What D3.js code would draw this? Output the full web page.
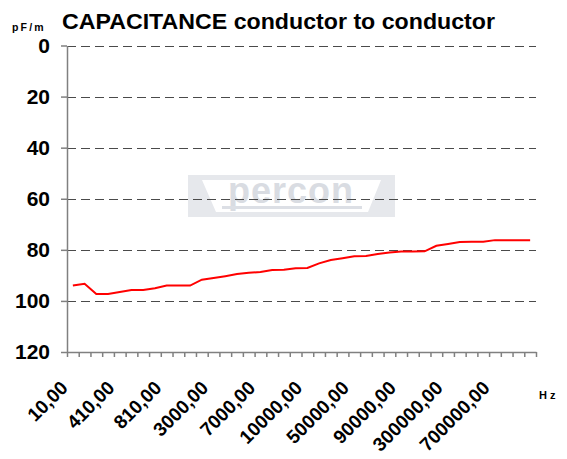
<!DOCTYPE html>
<html>
<head>
<meta charset="utf-8">
<script src="https://cdn.jsdelivr.net/npm/d3@7"></script>
<style>
  html, body { margin: 0; padding: 0; background: #fff; }
  svg { display: block; font-family: "Liberation Sans", Arial, sans-serif; }
</style>
</head>
<body>
<div id="chart"></div>
<script>
// frequencies (Hz) as categories, 40 of them
const freqs = [10, 110, 210, 310, 410, 510, 610, 710, 810, 910,
  1000, 2000, 3000, 4000, 5000, 6000, 7000, 8000, 9000, 9500,
  10000, 20000, 30000, 40000, 50000, 60000, 70000, 80000, 90000, 100000,
  150000, 200000, 300000, 400000, 500000, 600000, 700000, 800000, 900000, 1000000];

// capacitance pF/m
const capacitance = [94.0, 93.3, 97.3, 97.3, 96.5, 95.7, 95.7, 95.0, 94.0, 94.0,
  94.0, 91.7, 91.0, 90.3, 89.5, 89.0, 88.7, 87.9, 87.8, 87.2,
  87.1, 85.3, 84.0, 83.3, 82.5, 82.4, 81.6, 81.0, 80.7, 80.7,
  80.6, 78.4, 77.7, 76.9, 76.8, 76.8, 76.2, 76.2, 76.2, 76.2];

const yTicks = [0, 20, 40, 60, 80, 100, 120];
const labelEvery = 4;

const chart = {
  width : 567,
  height : 459,
  plot : {left: 67, right: 536, top: 45.5, bottom: 352},
  svg : null,
  draw : () => {
    const {plot} = chart;
    const svg = d3.select("#chart").append("svg")
      .attr("width", chart.width)
      .attr("height", chart.height);
    chart.svg = svg;

    const x = d3.scaleBand()
      .domain(freqs)
      .range([plot.left, plot.right]);
    const xTick = d3.scaleLinear()
      .domain([0, freqs.length])
      .range([plot.left, plot.right]);
    const y = d3.scaleLinear()
      .domain([0, 120])
      .range([plot.top, plot.bottom]);

    // watermark logo
    const logo = svg.append("g");
    logo.append("rect")
      .attr("x", 188).attr("y", 175).attr("width", 207).attr("height", 42)
      .attr("fill", "#e6e8ec");
    logo.append("path")
      .attr("d", "M202,180 L381,180 L368,212 L216,212 Z")
      .attr("fill", "#ffffff");
    logo.append("text")
      .attr("x", 291).attr("y", 203)
      .attr("text-anchor", "middle")
      .style("font-size", "36px")
      .style("font-weight", "bold")
      .style("letter-spacing", "1px")
      .attr("fill", "#d9dce2")
      .text("percon");
    logo.append("rect")
      .attr("x", 222).attr("y", 206).attr("width", 140).attr("height", 3)
      .attr("fill", "#dcdfe5");

    // dashed gridlines
    svg.append("g")
      .selectAll("line")
      .data(yTicks.filter(d => d < 120))
      .join("line")
        .attr("x1", plot.left)
        .attr("x2", plot.right)
        .attr("y1", d => Math.round(y(d)) + 0.5)
        .attr("y2", d => Math.round(y(d)) + 0.5)
        .attr("stroke", "#4a4a4a")
        .attr("stroke-width", 1)
        .attr("stroke-dasharray", "9,5");

    // y axis
    const gy = svg.append("g")
      .attr("transform", "translate(" + plot.left + ",0)")
      .call(d3.axisLeft(y).tickValues(yTicks).tickSize(6).tickPadding(11).tickSizeOuter(0));
    gy.select(".domain").attr("stroke", "#808080").attr("stroke-width", 1.5);
    gy.selectAll(".tick line").attr("stroke", "#808080").attr("stroke-width", 1.5);
    gy.selectAll(".tick text")
      .attr("fill", "#000")
      .style("font-size", "21px")
      .style("font-weight", "bold")
      .style("font-family", "'Liberation Sans', Arial, sans-serif");

    // x axis, ticks between categories
    const gx = svg.append("g")
      .attr("transform", "translate(0," + plot.bottom + ")")
      .call(d3.axisBottom(xTick).tickValues(d3.range(freqs.length + 1)).tickFormat("").tickSize(5).tickSizeOuter(0));
    gx.select(".domain").attr("stroke", "#808080").attr("stroke-width", 1.5);
    gx.selectAll(".tick line").attr("stroke", "#808080").attr("stroke-width", 1.5);

    // rotated category labels
    svg.append("g")
      .selectAll("text")
      .data(freqs.filter((d, i) => i % labelEvery === 0))
      .join("text")
        .attr("transform", d => "translate(" + (x(d) + x.bandwidth() / 2 - 4) + "," + 389 + ") rotate(-45)")
        .attr("text-anchor", "end")
        .style("font-size", "19px")
        .style("font-weight", "bold")
        .text(d => d + ",00");

    // the line
    const line = d3.line()
      .x((d, i) => x(freqs[i]) + x.bandwidth() / 2)
      .y(d => y(d));
    svg.append("path")
      .datum(capacitance)
      .attr("d", line)
      .attr("fill", "none")
      .attr("stroke", "#ff0000")
      .attr("stroke-width", 2);

    // titles
    svg.append("text")
      .attr("x", 12).attr("y", 31)
      .style("font-size", "10.5px")
      .style("font-weight", "bold")
      .style("letter-spacing", "2.2px")
      .text("pF/m");
    svg.append("text")
      .attr("x", 62).attr("y", 29)
      .attr("textLength", 433)
      .attr("lengthAdjust", "spacingAndGlyphs")
      .style("font-size", "22px")
      .style("font-weight", "bold")
      .text("CAPACITANCE conductor to conductor");
    svg.append("text")
      .attr("x", 539).attr("y", 399)
      .style("font-size", "11px")
      .style("font-weight", "bold")
      .style("letter-spacing", "3px")
      .text("Hz");
  }
};

document.addEventListener("DOMContentLoaded", chart.draw);
</script>
</body>
</html>
